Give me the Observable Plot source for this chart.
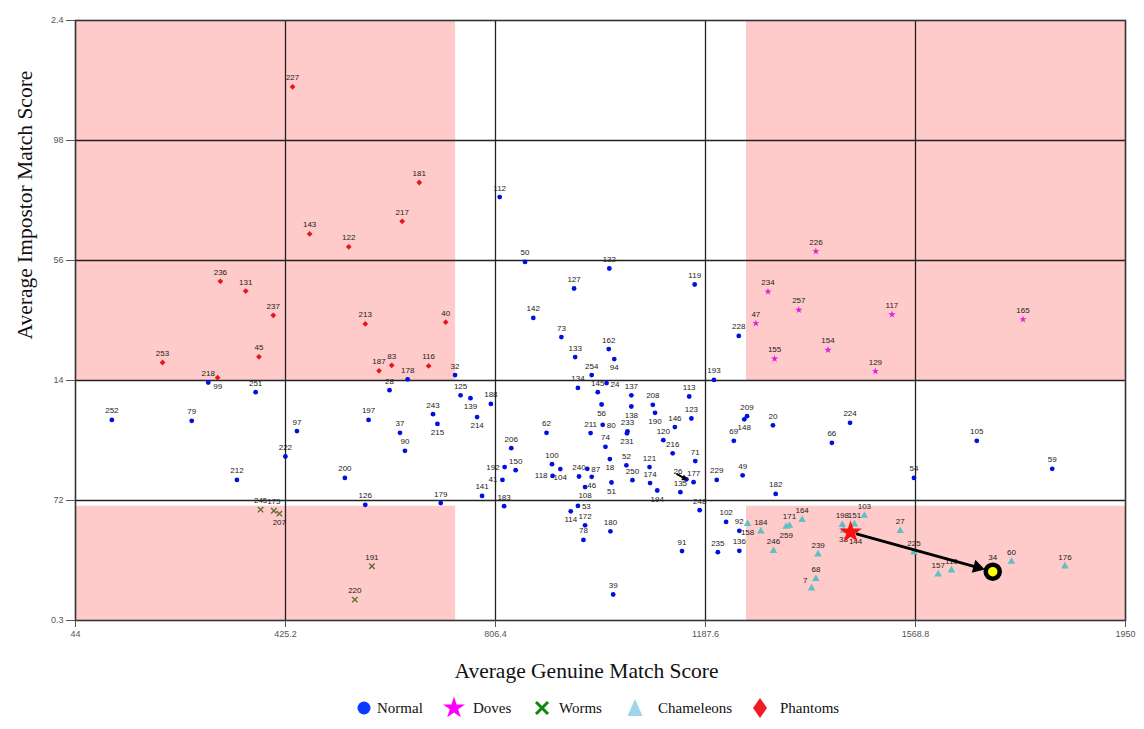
<!DOCTYPE html>
<html>
<head>
<meta charset="utf-8">
<script src="https://cdn.jsdelivr.net/npm/d3@7"></script>
<script src="https://cdn.jsdelivr.net/npm/@observablehq/plot@0.6"></script>
<style>
  html, body { margin: 0; padding: 0; background: #fff; }
  #chart svg { display: block; }
  #legend svg { display: block; }
</style>
</head>
<body>
<div id="chart"></div>
<div id="legend"></div>
<script>
// ---------- DATA ----------
const xTicks = [44, 425.2, 806.4, 1187.6, 1568.8, 1950];
const xTickLabels = ["44", "425.2", "806.4", "1187.6", "1568.8", "1950"];
const yTicks = [0.3, 0.72, 1.14, 1.56, 1.98, 2.4];
const yTickLabels = ["0.3", "72", "14", "56", "98", "2.4"];

// shaded zones (x1, x2, y1, y2)
const zoneX1 = [44, 1262, 44, 1262];
const zoneX2 = [734, 1950, 734, 1950];
const zoneY1 = [1.14, 1.14, 0.3, 0.3];
const zoneY2 = [2.4, 2.4, 0.7, 0.7];

// [id, genuine score, impostor score]
const normals = [
  [112,814,1.782],[50,860,1.555],[132,1013,1.532],[127,949,1.462],[119,1168,1.476],
  [142,875,1.359],[228,1248,1.296],[73,926,1.292],[162,1012,1.250],[133,951,1.222],
  [94,1022,1.215],[32,733,1.159],[254,981,1.159],[193,1203,1.142],[178,647,1.144],
  [218,285,1.133],[134,956,1.114],[145,992,1.099],[24,1008,1.131],[137,1053,1.088],
  [125,743,1.088],[139,761,1.078],[188,798,1.058],[243,693,1.022],[113,1158,1.084],
  [208,1092,1.055],[56,999,1.056],[138,1053,1.049],[190,1096,1.027],[123,1162,1.007],
  [209,1263,1.015],[148,1258,1.004],[146,1132,0.977],[20,1310,0.983],[215,701,0.988],
  [214,773,1.012],[62,899,0.957],[211,979,0.956],[80,1001,0.985],[233,1046,0.962],
  [231,1045,0.955],[120,1111,0.931],[206,835,0.903],[74,1006,0.908],[216,1128,0.885],
  [71,1169,0.858],[69,1239,0.929],[100,909,0.847],[150,843,0.826],[192,823,0.837],
  [41,819,0.792],[118,910,0.806],[104,924,0.830],[240,958,0.804],[87,973,0.831],
  [46,981,0.803],[108,969,0.767],[18,1014,0.865],[52,1044,0.843],[51,1017,0.783],
  [250,1055,0.791],[121,1086,0.837],[174,1087,0.781],[194,1100,0.755],[26,1153,0.794],
  [135,1142,0.749],[177,1166,0.784],[248,1177,0.686],[229,1208,0.792],[49,1255,0.808],
  [182,1315,0.743],[179,707,0.711],[141,782,0.736],[183,822,0.700],[53,956,0.701],
  [114,943,0.682],[172,969,0.633],[78,966,0.582],[180,1015,0.612],[91,1145,0.543],
  [39,1020,0.391],[102,1225,0.645],[92,1249,0.614],[235,1210,0.539],[136,1249,0.544],
  [224,1450,0.992],[66,1417,0.922],[105,1680,0.929],[59,1817,0.831],[54,1566,0.799],
  [252,110,1.002],[79,255,0.999],[197,576,1.002],[97,446,0.963],[37,633,0.957],
  [90,642,0.894],[222,425,0.874],[212,337,0.792],[200,533,0.799],[126,570,0.705],
  [28,614,1.106],[251,371,1.099]
];
const phantoms = [
  [227,438,2.168],[181,668,1.833],[217,637,1.697],[143,469,1.653],[122,540,1.608],
  [236,307,1.487],[131,353,1.453],[237,403,1.368],[213,570,1.338],[40,716,1.344],
  [253,202,1.203],[45,377,1.223],[99,302,1.150],[187,595,1.174],[83,618,1.193],
  [116,685,1.191]
];
const doves = [
  [226,1388,1.592],[234,1301,1.451],[257,1357,1.387],[47,1279,1.340],[117,1526,1.371],
  [165,1764,1.354],[155,1313,1.216],[154,1410,1.247],[129,1496,1.172]
];
const worms = [
  [245,380,0.688],[175,404,0.684],[207,414,0.674],[191,582,0.490],[220,551,0.373]
];
const chameleons = [
  [158,1264,0.638],[184,1288,0.612],[246,1311,0.544],[171,1340,0.632],[259,1334,0.629],
  [164,1363,0.652],[239,1392,0.532],[68,1388,0.446],[7,1380,0.413],[198,1436,0.635],
  [151,1458,0.637],[33,1438,0.615],[144,1460,0.608],[103,1476,0.667],[27,1541,0.614],
  [225,1566,0.539],[157,1610,0.462],[110,1634,0.476],[60,1743,0.506],[176,1840,0.490],
  [34,1709,0.471]
];

// annotations: the highlighted source (star) and target (circled subject 34)
const starPoint = [1451, 0.609];
const targetPoint = [1709, 0.471];
const smallArrow = [1136, 0.812, 1152, 0.795];

const xTitle = "Average Genuine Match Score";
const yTitle = "Average Impostor Match Score";
const legendNames = ["Normal", "Doves", "Worms", "Chameleons", "Phantoms"];

// ---------- BUILD ----------
const toRows = (arr, cls) => arr.map(([id, x, y]) => ({id, x, y, cls}));
const rowsN = toRows(normals, "Normal");
const rowsP = toRows(phantoms, "Phantoms");
const rowsD = toRows(doves, "Doves");
const rowsW = toRows(worms, "Worms");
const rowsC = toRows(chameleons, "Chameleons");
const allRows = [...rowsN, ...rowsP, ...rowsD, ...rowsW, ...rowsC];

const zones = zoneX1.map((_, i) => ({x1: zoneX1[i], x2: zoneX2[i], y1: zoneY1[i], y2: zoneY2[i]}));

const below = new Set([99,207,94,139,214,56,138,190,148,215,231,104,18,46,108,51,194,114,158,259,33,144]);
const right = new Set([24,80,87,53]);
const left = new Set([192,41,118]);
const leftUp = new Set([26, 7]);
const raised = new Set([34]);
const above = r => !below.has(r.id) && !right.has(r.id) && !left.has(r.id) && !leftUp.has(r.id) && !raised.has(r.id);

const labelFont = "'Liberation Sans Narrow', 'Liberation Sans', Arial, sans-serif";
const lab = {x: "x", y: "y", text: d => String(d.id), fontSize: 8, fontFamily: labelFont, fill: "#222"};

// direction of the highlight arrow (pixel angle computed after scales are known)
const xs = d3.scaleLinear([44, 1950], [75, 1125]);
const ys = d3.scaleLinear([0.3, 2.4], [620, 20]);
const adx = xs(targetPoint[0]) - xs(starPoint[0]);
const ady = ys(targetPoint[1]) - ys(starPoint[1]);
const ang = Math.atan2(ady, adx);
const headBack = 16;

const plot = Plot.plot({
  width: 1144,
  height: 690,
  marginLeft: 75,
  marginRight: 19,
  marginTop: 20,
  marginBottom: 70,
  style: {fontFamily: "'Liberation Sans', Arial, sans-serif", background: "#fff"},
  x: {domain: [44, 1950]},
  y: {domain: [0.3, 2.4]},
  marks: [
    Plot.rect(zones, {x1: "x1", x2: "x2", y1: "y1", y2: "y2", fill: "#ffcaca"}),
    Plot.ruleX(xTicks.slice(1, -1), {stroke: "#222", strokeWidth: 1.3}),
    Plot.ruleY(yTicks.slice(1, -1), {stroke: "#222", strokeWidth: 1.3}),
    Plot.frame({stroke: "#333", strokeWidth: 1.6}),
    Plot.axisX({ticks: xTicks, tickFormat: d => xTickLabels[xTicks.indexOf(d)], tickSize: 7, tickPadding: 3,
      fontSize: 9, color: "#555", label: null}),
    Plot.axisY({ticks: yTicks, tickFormat: d => yTickLabels[yTicks.indexOf(d)], tickSize: 9, tickPadding: 3,
      fontSize: 9, color: "#555", label: null}),

    Plot.dot(rowsP, {x: "x", y: "y", symbol: "diamond2", r: 2.6, fill: "#e8141e"}),
    Plot.dot(rowsD, {x: "x", y: "y", symbol: "star", r: 2.3, fill: "#e01ee0"}),
    Plot.dot(rowsW, {x: "x", y: "y", symbol: "times", r: 2.6, stroke: "#5e6b34", strokeWidth: 1.4}),
    Plot.dot(rowsC, {x: "x", y: "y", symbol: "triangle", r: 2.8, fill: "#5fbfc4"}),
    Plot.dot(rowsN, {x: "x", y: "y", symbol: "circle", r: 2.4, fill: "#0010e0"}),

    Plot.text(allRows.filter(above), {...lab, dy: -9}),
    Plot.text(allRows.filter(r => below.has(r.id)), {...lab, dy: 8.5}),
    Plot.text(allRows.filter(r => right.has(r.id)), {...lab, dx: 4, dy: 1, textAnchor: "start"}),
    Plot.text(allRows.filter(r => left.has(r.id)), {...lab, dx: -5, textAnchor: "end"}),
    Plot.text(allRows.filter(r => leftUp.has(r.id)), {...lab, dx: -4, dy: -8, textAnchor: "end"}),
    Plot.text(allRows.filter(r => raised.has(r.id)), {...lab, dy: -14}),

    // small pointer near subject 26
    Plot.arrow([smallArrow], {x1: d => d[0], y1: d => d[1], x2: d => d[2], y2: d => d[3],
      stroke: "#000", strokeWidth: 2, headLength: 6}),

    // highlighted transition arrow (shaft + solid head)
    Plot.arrow([[...starPoint, ...targetPoint]], {x1: d => d[0], y1: d => d[1], x2: d => d[2], y2: d => d[3],
      stroke: "#000", strokeWidth: 3, headLength: 0, insetStart: 7, insetEnd: 14}),
    Plot.dot([targetPoint], {x: d => d[0], y: d => d[1], symbol: "triangle", r: 5, fill: "#000",
      rotate: 90 + ang * 180 / Math.PI, dx: -headBack * Math.cos(ang), dy: -headBack * Math.sin(ang)}),
    Plot.dot([starPoint], {x: d => d[0], y: d => d[1], symbol: "star", r: 7.2, fill: "#ff1010"}),
    Plot.dot([targetPoint], {x: d => d[0], y: d => d[1], r: 7, fill: "#ffff00", stroke: "#000", strokeWidth: 4.5}),

    // axis titles
    Plot.text([xTitle], {frameAnchor: "bottom", dx: -14, dy: 57, fontSize: 21.5,
      fontFamily: "'Liberation Serif', 'Times New Roman', serif", fill: "#111"}),
    Plot.text([yTitle], {frameAnchor: "left", dx: -50, dy: 19, rotate: -90, fontSize: 21.5,
      fontFamily: "'Liberation Serif', 'Times New Roman', serif", fill: "#111"})
  ]
});
document.getElementById("chart").appendChild(plot);

// ---------- LEGEND ----------
const lsvg = d3.select("#legend").append("svg").attr("width", 1144).attr("height", 39);
const cy = 18;
const items = [
  {name: legendNames[0], cx: 364, tx: 377, draw: g => g.append("circle").attr("r", 6.5).attr("fill", "#0a3cff")},
  {name: legendNames[1], cx: 454, tx: 473, draw: g => g.append("path").attr("d", d3.symbol(d3.symbolStar, 150)()).attr("fill", "#ff00ff")},
  {name: legendNames[2], cx: 542, tx: 559, draw: g => g.append("path").attr("d", "M-6,-6L6,6M-6,6L6,-6").attr("stroke", "#0a8a0a").attr("stroke-width", 3)},
  {name: legendNames[3], cx: 635, tx: 658, draw: g => g.append("path").attr("d", "M0,-9L7.5,8L-7.5,8Z").attr("fill", "#9cd6e8")},
  {name: legendNames[4], cx: 760, tx: 780, draw: g => g.append("path").attr("d", "M0,-10L7,0L0,10L-7,0Z").attr("fill", "#ee1c24")}
];
items.forEach(it => {
  const g = lsvg.append("g").attr("transform", `translate(${it.cx},${cy})`);
  it.draw(g);
  lsvg.append("text").attr("x", it.tx).attr("y", cy + 5)
    .attr("font-family", "'Liberation Serif', 'Times New Roman', serif")
    .attr("font-size", 15).attr("fill", "#111").text(it.name);
});
</script>
</body>
</html>
